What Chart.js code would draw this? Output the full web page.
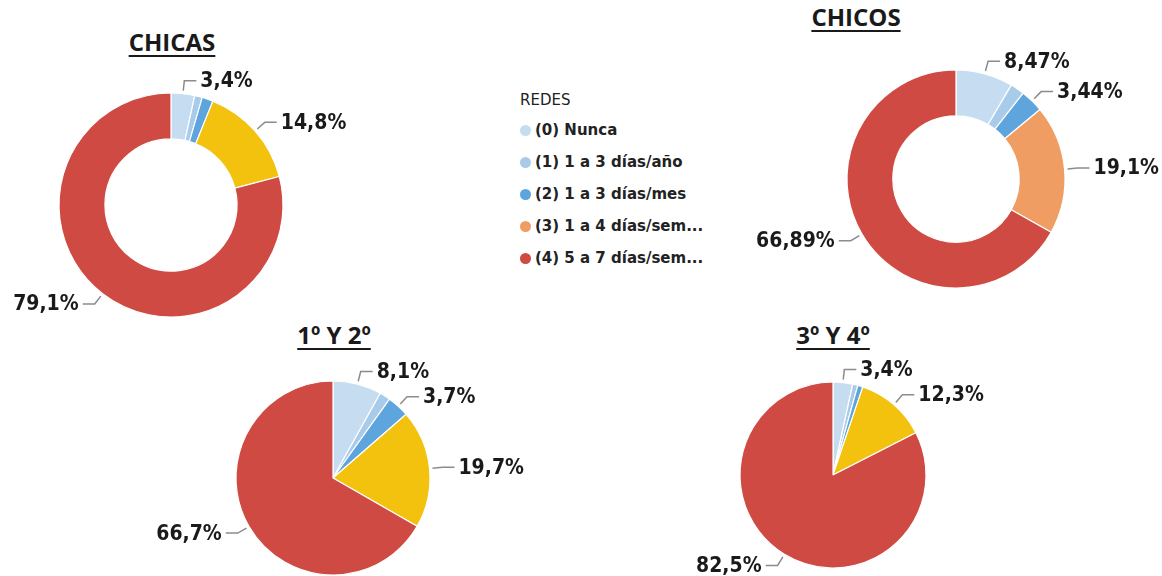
<!DOCTYPE html>
<html>
<head>
<meta charset="utf-8">
<script src="https://cdn.jsdelivr.net/npm/chart.js@4.4.1/dist/chart.umd.min.js"></script>
<style>
  html, body { margin:0; padding:0; background:#fff; width:1162px; height:576px; overflow:hidden; position:relative; }
  canvas { position:absolute; }
  .ttl { position:absolute; width:220px; text-align:center; font-family:"Open Sans", sans-serif; font-weight:700;
         font-size:24px; line-height:24px; color:#1a1a1a; text-decoration:underline; text-decoration-thickness:2px; text-underline-offset:4px; }
  #legend { position:absolute; left:520px; top:90px; font-family:"DejaVu Sans", sans-serif; color:#222; }
  #legend .hd { font-size:15px; line-height:20px; height:20px; margin-bottom:10px; }
  #legend .it { font-size:15px; font-weight:700; line-height:20px; height:20px; margin-bottom:12px; white-space:nowrap; }
  #legend .dot { display:inline-block; width:11px; height:11px; border-radius:50%; margin-right:4px; vertical-align:-1px; }
</style>
</head>
<body>
<div class="ttl" style="left:62px;top:30px;">CHICAS</div>
<div class="ttl" style="left:746px;top:5px;">CHICOS</div>
<div class="ttl" style="left:224px;top:323px;">1º Y 2º</div>
<div class="ttl" style="left:723px;top:323px;">3º Y 4º</div>
<div id="legend"></div>

<canvas id="c1" width="462" height="290" style="left:-60px;top:60px;"></canvas>
<canvas id="c2" width="412" height="270" style="left:750px;top:44px;"></canvas>
<canvas id="c3" width="400" height="240" style="left:133px;top:358px;"></canvas>
<canvas id="c4" width="360" height="240" style="left:653px;top:355px;"></canvas>

<script>
// ---- data ----
const legendTitle = "REDES";
const categories = ["(0) Nunca", "(1) 1 a 3 días/año", "(2) 1 a 3 días/mes", "(3) 1 a 4 días/sem...", "(4) 5 a 7 días/sem..."];
const chicasValues = [3.4, 1.1, 1.6, 14.8, 79.1];
const chicosValues = [8.47, 2.1, 3.44, 19.1, 66.89];
const curso12Values = [8.1, 1.8, 3.7, 19.7, 66.7];
const curso34Values = [3.4, 0.9, 0.9, 12.3, 82.5];

// ---- styles ----
const legendColors = ["#c6dcf1", "#a9cbea", "#5ea4dd", "#ef9d62", "#cf4a43"];
const yellowColors = ["#c6dcf1", "#a9cbea", "#5ea4dd", "#f2c20f", "#cf4a43"];
const orangeColors = legendColors;
const LABEL_MIN = 3;

const legend = document.getElementById('legend');
legend.innerHTML = '<div class="hd">' + legendTitle + '</div>' +
  categories.map((c, i) => '<div class="it"><span class="dot" style="background:' + legendColors[i] + '"></span>' + c + '</div>').join('');

const leaderPlugin = {
  id: 'leaders',
  afterDatasetsDraw(chart) {
    const ctx = chart.ctx;
    const meta = chart.getDatasetMeta(0);
    const data = chart.data.datasets[0].data;
    meta.data.forEach((arc, i) => {
      const v = data[i];
      if (v < LABEL_MIN) return;
      const p = arc.getProps(['x', 'y', 'startAngle', 'endAngle', 'outerRadius'], true);
      const mid = (p.startAngle + p.endAngle) / 2;
      const c = Math.cos(mid), s = Math.sin(mid);
      const r1 = p.outerRadius + 3, r2 = p.outerRadius + 13;
      const x1 = p.x + c * r1, y1 = p.y + s * r1;
      const x2 = p.x + c * r2, y2 = p.y + s * r2;
      const right = c >= 0;
      const x3 = x2 + (right ? 12 : -12);
      ctx.save();
      ctx.strokeStyle = '#8c8c8c';
      ctx.lineWidth = 1.5;
      ctx.beginPath();
      ctx.moveTo(x1, y1); ctx.lineTo(x2, y2); ctx.lineTo(x3, y2);
      ctx.stroke();
      ctx.fillStyle = '#1a1a1a';
      ctx.font = 'bold 21px "DejaVu Sans Condensed", "DejaVu Sans", sans-serif';
      ctx.textBaseline = 'middle';
      ctx.textAlign = right ? 'left' : 'right';
      ctx.fillText(String(v).replace('.', ',') + '%', x3 + (right ? 4 : -4), y2 + 1);
      ctx.restore();
    });
  }
};

function makeChart(id, values, colors, radius, cutout) {
  return new Chart(document.getElementById(id), {
    type: 'doughnut',
    data: {
      labels: categories,
      datasets: [{ data: values, backgroundColor: colors, borderColor: '#ffffff', borderWidth: 1.2 }]
    },
    options: {
      responsive: false,
      animation: false,
      radius: radius,
      cutout: cutout,
      layout: { padding: 0 },
      plugins: { legend: { display: false }, tooltip: { enabled: false } }
    },
    plugins: [leaderPlugin]
  });
}

makeChart('c1', chicasValues, yellowColors, 112, '59%');
makeChart('c2', chicosValues, orangeColors, 109, '58%');
makeChart('c3', curso12Values, yellowColors, 97, 0);
makeChart('c4', curso34Values, yellowColors, 93, 0);
</script>
</body>
</html>
